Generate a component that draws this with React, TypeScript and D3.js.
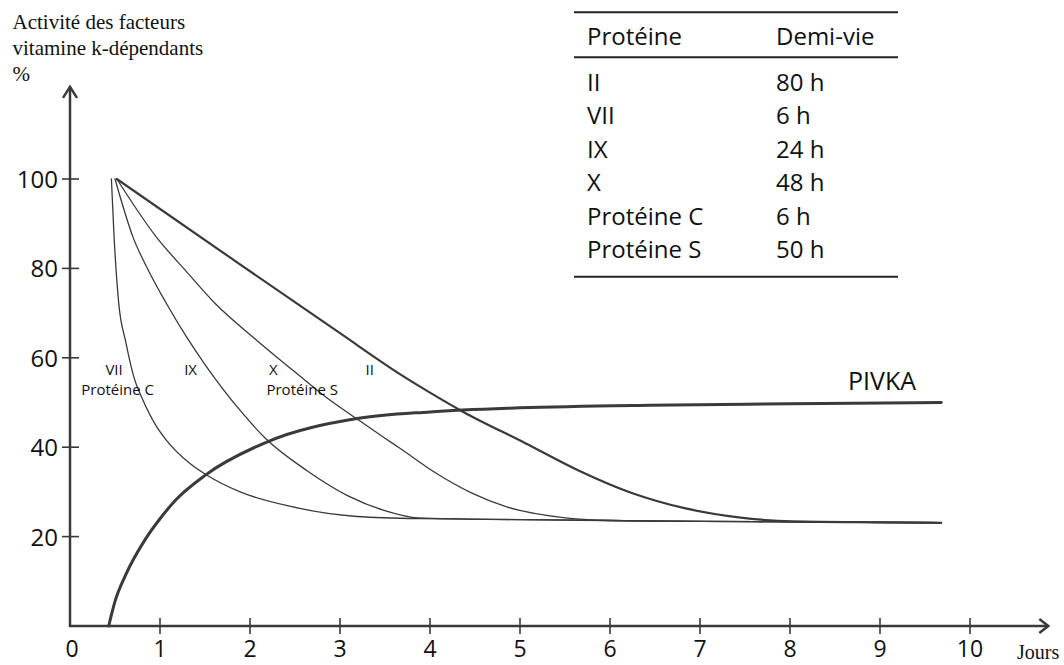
import React, { useEffect, useRef } from 'react';
import * as d3 from 'd3';

type Pt = [number, number];

// axis ticks
const xTicks = [0, 1, 2, 3, 4, 5, 6, 7, 8, 9, 10];
const yTicks = [20, 40, 60, 80, 100];

// curves: [jours, %]
const factorVII: Pt[] = [
  [0.46, 100], [0.49, 87], [0.54, 72.5], [0.62, 63.5], [0.72, 55], [0.8, 51],
  [0.95, 45], [1.07, 41.6], [1.33, 36.4], [1.5, 34], [1.89, 30], [2.44, 26.8],
  [3.19, 24.5], [3.9, 24], [5, 23.8], [6, 23.6], [7, 23.4], [8, 23.3], [9.68, 23.1],
];
const factorIX: Pt[] = [
  [0.5, 100], [0.7, 87], [0.87, 79.6], [1.07, 72.2], [1.3, 64.5], [1.5, 58.5],
  [1.9, 48], [2.17, 42], [2.63, 34.8], [3.1, 29], [3.5, 25.8], [3.87, 24.2],
  [5, 23.8], [6, 23.6], [7, 23.4], [8, 23.3], [9.68, 23.1],
];
const factorX: Pt[] = [
  [0.52, 100], [0.96, 87], [1.28, 79.6], [1.61, 72.2], [2.07, 64], [2.61, 55],
  [2.78, 52.2], [3.19, 46.3], [3.5, 42], [3.67, 39.7], [4.06, 34.3], [4.46, 29.8],
  [4.86, 26.6], [5.46, 24.3], [6, 23.6], [7, 23.4], [8, 23.3], [9.68, 23.1],
];
const factorII: Pt[] = [
  [0.52, 100], [1.81, 82], [3.0, 65.5], [3.67, 56.3], [4.0, 52.2], [4.36, 48],
  [5.06, 40.9], [5.65, 34.8], [6.25, 29.7], [6.84, 26.3], [7.43, 24.3], [8.03, 23.4],
  [9, 23.2], [9.68, 23.1],
];
const pivka: Pt[] = [
  [0.43, 0], [0.5, 5.5], [0.62, 11.5], [0.84, 19.5], [1.0, 24], [1.18, 28.3],
  [1.5, 33.7], [2.18, 41.1], [3.19, 46.4], [4.0, 47.9], [5, 48.8], [6.44, 49.4],
  [8, 49.7], [9.68, 50],
];

// table
const tableHeader = ['Protéine', 'Demi-vie'];
const proteins = ['II', 'VII', 'IX', 'X', 'Protéine C', 'Protéine S'];
const halfLives = ['80 h', '6 h', '24 h', '48 h', '6 h', '50 h'];

const titleLines = ['Activité des facteurs', 'vitamine k-dépendants', '%'];

const INK = '#3a3a3a';
const SANS = "'Open Sans', 'Noto Sans', sans-serif";
const SERIF = "'Liberation Serif', 'DejaVu Serif', serif";

export default function App() {
  const svgRef = useRef<SVGSVGElement>(null);

  useEffect(() => {
    if (!svgRef.current) return;
    const svg = d3.select(svgRef.current);
    svg.selectAll('*').remove();

    const x = d3.scaleLinear().domain([0, 10]).range([70, 970]);
    const y = d3.scaleLinear().domain([0, 100]).range([626, 179]);

    const line = d3.line<Pt>()
      .x(d => x(d[0]))
      .y(d => y(d[1]))
      .curve(d3.curveMonotoneX);

    // title
    const title = svg.append('text')
      .attr('x', 12.5)
      .style('font-family', SERIF)
      .style('font-size', '21px')
      .attr('fill', '#111');
    titleLines.forEach((t, i) => {
      title.append('tspan').attr('x', 12.5).attr('y', 29 + i * 26).text(t);
    });

    // axes
    const x0 = x(0), y0 = y(0);
    const xEnd = x(10.87), yEnd = y(120.6);
    const axis = svg.append('g').attr('stroke', INK).attr('stroke-width', 2.5).attr('fill', 'none');
    axis.append('line').attr('x1', x0).attr('y1', y0 + 1).attr('x2', x0).attr('y2', yEnd);
    axis.append('line').attr('x1', x0 - 1).attr('y1', y0).attr('x2', xEnd).attr('y2', y0);
    axis.append('path')
      .attr('d', `M${x0 - 7},${yEnd + 11}L${x0},${yEnd}L${x0 + 7},${yEnd + 11}`);
    axis.append('path')
      .attr('d', `M${xEnd - 9},${y0 - 7}L${xEnd},${y0}L${xEnd - 9},${y0 + 7}`);

    // y ticks
    const yt = svg.append('g');
    yTicks.forEach(v => {
      yt.append('line')
        .attr('x1', x0 - 8).attr('x2', x0 + 9)
        .attr('y1', y(v)).attr('y2', y(v))
        .attr('stroke', INK).attr('stroke-width', 1.6);
      yt.append('text')
        .attr('x', x0 - 12).attr('y', y(v) + 9)
        .attr('text-anchor', 'end')
        .style('font-family', SANS).style('font-size', '24px')
        .attr('fill', '#111')
        .text(String(v));
    });

    // x ticks
    const xt = svg.append('g');
    xTicks.forEach(d => {
      if (d > 0) {
        xt.append('line')
          .attr('x1', x(d)).attr('x2', x(d))
          .attr('y1', y0 - 8).attr('y2', y0 + 8)
          .attr('stroke', INK).attr('stroke-width', 1.6);
      }
      xt.append('text')
        .attr('x', x(d) + (d === 0 ? 2 : 0)).attr('y', 657)
        .attr('text-anchor', 'middle')
        .style('font-family', SANS).style('font-size', '23px')
        .attr('fill', '#111')
        .text(String(d));
    });
    svg.append('text')
      .attr('x', 1017).attr('y', 659)
      .style('font-family', SERIF).style('font-size', '20px')
      .attr('fill', '#111')
      .text('Jours');

    // curves
    const curves: { data: Pt[]; w: number }[] = [
      { data: factorVII, w: 1.3 },
      { data: factorIX, w: 1.3 },
      { data: factorX, w: 1.3 },
      { data: factorII, w: 2.2 },
      { data: pivka, w: 3 },
    ];
    svg.append('g')
      .selectAll('path')
      .data(curves)
      .enter()
      .append('path')
      .attr('d', c => line(c.data) || '')
      .attr('fill', 'none')
      .attr('stroke', INK)
      .attr('stroke-width', c => c.w)
      .attr('stroke-linecap', 'round');

    // curve labels
    const curveLabels: { text: string; day: number; value: number }[] = [
      { text: 'VII', day: 0.49, value: 56.2 },
      { text: 'Protéine C', day: 0.53, value: 51.7 },
      { text: 'IX', day: 1.34, value: 56.2 },
      { text: 'X', day: 2.26, value: 56.2 },
      { text: 'Protéine S', day: 2.58, value: 51.7 },
      { text: 'II', day: 3.33, value: 56.2 },
    ];
    svg.append('g')
      .selectAll('text')
      .data(curveLabels)
      .enter()
      .append('text')
      .attr('x', d => x(d.day))
      .attr('y', d => y(d.value))
      .attr('text-anchor', 'middle')
      .style('font-family', SANS)
      .style('font-size', '15px')
      .attr('fill', '#111')
      .text(d => d.text);

    svg.append('text')
      .attr('x', 848).attr('y', 390)
      .style('font-family', SANS).style('font-size', '25px')
      .attr('fill', '#111')
      .text('PIVKA');

    // half-life table
    const tbl = svg.append('g');
    const col1 = 587, col2 = 776;
    [12.3, 57.3, 276.7].forEach(ly => {
      tbl.append('line')
        .attr('x1', 574).attr('x2', 898)
        .attr('y1', ly).attr('y2', ly)
        .attr('stroke', '#222').attr('stroke-width', 2);
    });
    const cell = (tx: number, ty: number, t: string) =>
      tbl.append('text')
        .attr('x', tx).attr('y', ty)
        .style('font-family', SANS).style('font-size', '24px')
        .attr('fill', '#111')
        .text(t);
    cell(col1, 45, tableHeader[0]);
    cell(col2, 45, tableHeader[1]);
    proteins.forEach((p, i) => {
      cell(col1, 90.7 + i * 33.5, p);
      cell(col2, 90.7 + i * 33.5, halfLives[i]);
    });
  }, []);

  return (
    <svg
      ref={svgRef}
      width={1064}
      height={665}
      style={{ position: 'absolute', left: 0, top: 0, background: '#fff' }}
    />
  );
}
